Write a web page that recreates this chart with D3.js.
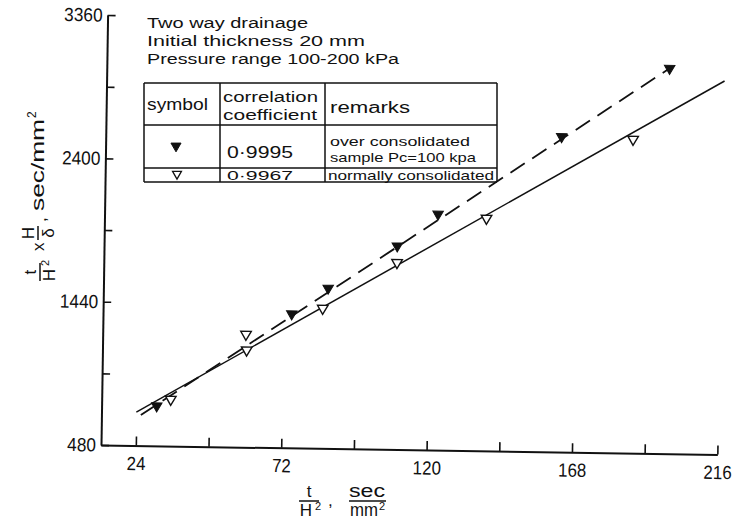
<!DOCTYPE html>
<html>
<head>
<meta charset="utf-8">
<script src="https://cdn.jsdelivr.net/npm/d3@7"></script>
<style>
  html, body { margin: 0; padding: 0; background: #fff; }
  text { font-family: "Liberation Sans", Arial, sans-serif; fill: #111; }
</style>
</head>
<body>
<svg id="chart" width="744" height="529"></svg>
<script>
// ---- data ----
const xTicks = [24, 48, 72, 96, 120, 144, 168, 192, 216];
const xTickLabels = [24, 72, 120, 168, 216];
const yTicks = [480, 960, 1440, 1920, 2400, 2880, 3360];
const yTickLabels = [480, 1440, 2400, 3360];

// over consolidated sample (filled symbols)
const overX = [30.7, 74.8, 86.7, 109.3, 122.6, 163, 198.3];
const overY = [747, 1377, 1553, 1843, 2060, 2592, 3061];
// normally consolidated sample (open symbols)
const normX = [35.3, 59.8, 60.1, 85, 109.3, 138.6, 186.6];
const normY = [793, 1236, 1131, 1418, 1732, 2038, 2582];

// fitted straight lines, end points
const overFitX = [25.5, 198.3];
const overFitY = [685, 3061];
const normFitX = [24, 216.5];
const normFitY = [704, 2982];

const notes = ["Two way drainage", "Initial thickness  20 mm", "Pressure range 100-200 kPa"];
const coefficients = ["0·9995", "0·9967"];
const remarks = [["over consolidated", "sample Pc=100 kpa"], ["normally consolidated"]];

// ---- drawing ----
const svg = d3.select("#chart");
const ink = "#111";

function label(parent, s, x, y, size, len, anchor) {
  const t = parent.append("text").attr("y", y).attr("font-size", size).text(s);
  let x0 = x;
  if (len) {
    if (anchor === "middle") x0 = x - len / 2;
    else if (anchor === "end") x0 = x - len;
    t.attr("textLength", len).attr("lengthAdjust", "spacingAndGlyphs");
  } else if (anchor) {
    t.attr("text-anchor", anchor);
  }
  t.attr("x", x0);
  return t;
}

// plot frame, slightly tilted like the drafted sheet
const g = svg.append("g").attr("transform", "translate(101,445) rotate(0.88)");

const x = d3.scaleLinear().domain([12.5, 216]).range([0, 616.4]);
const y = d3.scaleLinear().domain([480, 3360]).range([0, -430]);

const xAxis = g.append("g").call(
  d3.axisBottom(x).tickValues(xTicks).tickSizeInner(-9).tickSizeOuter(0).tickPadding(11)
    .tickFormat(d => xTickLabels.includes(d) ? String(d) : "")
);
const yAxis = g.append("g").call(
  d3.axisLeft(y).tickValues(yTicks).tickSizeInner(-8).tickSizeOuter(0).tickPadding(5)
    .tickFormat(d => yTickLabels.includes(d) ? String(d) : "")
);
[xAxis, yAxis].forEach(a => {
  a.select(".domain").attr("stroke", ink).attr("stroke-width", 2);
  a.selectAll(".tick line").attr("stroke", ink).attr("stroke-width", 1.6);
  a.selectAll(".tick text").attr("fill", ink).attr("font-size", 19)
    .attr("font-family", "'Liberation Sans', Arial, sans-serif");
});
// narrow lettering for the tick numbers
xAxis.selectAll(".tick text").each(function () {
  const s = d3.select(this); const n = s.text().length;
  if (n) s.attr("textLength", n * 9.4).attr("lengthAdjust", "spacingAndGlyphs");
});
yAxis.selectAll(".tick text").each(function () {
  const s = d3.select(this); const n = s.text().length;
  if (n) s.attr("textLength", n * 9.6).attr("lengthAdjust", "spacingAndGlyphs");
});

// fitted lines
const line = d3.line().x(d => x(d[0])).y(d => y(d[1]));
g.append("path").datum(d3.zip(normFitX, normFitY)).attr("d", line)
  .attr("fill", "none").attr("stroke", ink).attr("stroke-width", 1.5);
g.append("path").datum(d3.zip(overFitX, overFitY)).attr("d", line)
  .attr("fill", "none").attr("stroke", ink).attr("stroke-width", 1.8)
  .attr("stroke-dasharray", "17,9");

// symbols (downward triangles)
const tri = d3.symbol(d3.symbolTriangle, 48)();
g.selectAll(".norm").data(d3.zip(normX, normY)).join("path").attr("class", "norm")
  .attr("d", tri).attr("transform", d => `translate(${x(d[0])},${y(d[1])}) rotate(180)`)
  .attr("fill", "#fff").attr("stroke", ink).attr("stroke-width", 1.4);
g.selectAll(".over").data(d3.zip(overX, overY)).join("path").attr("class", "over")
  .attr("d", tri).attr("transform", d => `translate(${x(d[0])},${y(d[1])}) rotate(180)`)
  .attr("fill", ink).attr("stroke", ink).attr("stroke-width", 1);

// ---- notes ----
const noteLens = [161, 218, 252];
notes.forEach((s, i) => label(svg, s, 147, 28 + i * 18, 15.5, noteLens[i]));

// ---- legend table ----
const tb = svg.append("g");
const tL = 144, tR = 497, tTop = 83, c1 = 220, c2 = 325, r1 = 125, r2 = 168, tBot = 182;
const tl = (x1, y1, x2, y2) => tb.append("line").attr("x1", x1).attr("y1", y1).attr("x2", x2).attr("y2", y2)
  .attr("stroke", ink).attr("stroke-width", 1.5);
tl(tL, tTop, tR, tTop); tl(tL, tBot, tR, tBot); tl(tL, r1, tR, r1); tl(tL, r2, tR, r2);
tl(tL, tTop, tL, tBot); tl(tR, tTop, tR, tBot); tl(c1, tTop, c1, tBot); tl(c2, tTop, c2, tBot);

label(tb, "symbol", 147, 110, 16, 61);
label(tb, "correlation", 223, 102, 15.5, 95);
label(tb, "coefficient", 223, 120, 15.5, 94);
label(tb, "remarks", 330, 113, 16, 80);

const legendTri = d3.symbol(d3.symbolTriangle, 44)();
tb.append("path").attr("d", legendTri).attr("transform", "translate(176,146) rotate(180)")
  .attr("fill", ink).attr("stroke", ink);
tb.append("path").attr("d", d3.symbol(d3.symbolTriangle, 34)()).attr("transform", "translate(177,174) rotate(180)")
  .attr("fill", "#fff").attr("stroke", ink).attr("stroke-width", 1.3);

label(tb, coefficients[0], 227, 158, 17, 66);
label(tb, coefficients[1], 227, 180, 13, 66);
label(tb, remarks[0][0], 330, 146, 13, 140);
label(tb, remarks[0][1], 330, 162, 13, 146);
label(tb, remarks[1][0], 328, 180, 13, 166);

// ---- axis titles ----
function fraction(parent, num, den, sup, cx, numY, barY, denY, w) {
  label(parent, num, cx, numY, 17, null, "middle");
  parent.append("line").attr("x1", cx - w / 2).attr("x2", cx + w / 2).attr("y1", barY).attr("y2", barY)
    .attr("stroke", ink).attr("stroke-width", 1.5);
  label(parent, den, cx - (sup ? 3 : 0), denY, 17, null, "middle");
  if (sup) label(parent, sup, cx + 6, denY - 6, 11);
}

// y title, reading upward
const yt = svg.append("g").attr("transform", "translate(44,283) rotate(-90)");
fraction(yt, "t", "H", "2", 11, -8, -4, 11, 18);
label(yt, "x", 32, 0, 17);
fraction(yt, "H", "δ", null, 50, -10, -6, 10, 14);
label(yt, ",", 61, 2, 17);
label(yt, "sec/mm", 72, 0, 18, 92);
label(yt, "2", 165, -8, 12);

// x title
const xt = svg.append("g");
fraction(xt, "t", "H", "2", 309, 497, 501, 516, 20);
label(xt, ",", 328, 506, 17);
label(xt, "sec", 367, 497, 18, 36, "middle");
xt.append("line").attr("x1", 349).attr("x2", 386).attr("y1", 501).attr("y2", 501)
  .attr("stroke", ink).attr("stroke-width", 1.5);
label(xt, "mm", 364, 516, 18, 28, "middle");
label(xt, "2", 379, 510, 11);
</script>
</body>
</html>
